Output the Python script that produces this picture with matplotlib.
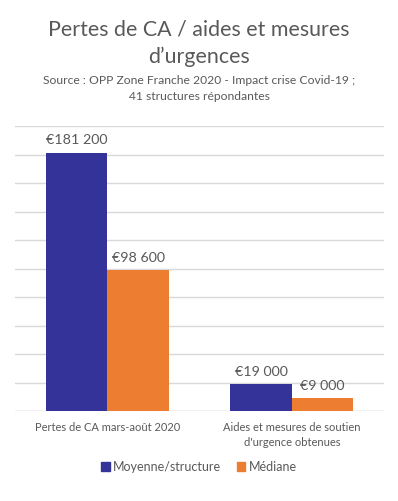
import numpy as np
import matplotlib
matplotlib.use('Agg')
import matplotlib.pyplot as plt
from matplotlib.patches import Patch

categories = ['Pertes de CA mars-août 2020', 'Aides et mesures de soutien\nd\'urgence obtenues']
series_names = ['Moyenne/structure', 'Médiane']
moyenne = [181200, 19000]
mediane = [98600, 9000]
colors = ['#333399', '#ED7D31']
text_col = '#595959'

plt.rcParams['font.family'] = ['Lato', 'DejaVu Sans']

fig = plt.figure(figsize=(3.98, 5.01), dpi=100)
ax = fig.add_axes([15/398, 1-411/501, 369/398, 285/501])

x = np.arange(len(categories))
w = 1/3
for i, (vals, col) in enumerate(zip([moyenne, mediane], colors)):
    pos = x + (i - 0.5) * w
    ax.bar(pos, vals, width=w, color=col, zorder=2)
    for p, v in zip(pos, vals):
        lab = '€' + format(v, ',').replace(',', ' ')
        ax.text(p, v + 4500, lab, ha='center', va='bottom', fontsize=10.3, color=text_col)

ax.set_xlim(-0.5, 1.5)
ax.set_ylim(0, 200000)
ax.set_yticks(np.arange(0, 200001, 20000))
ax.yaxis.grid(True, color='#D9D9D9', linewidth=1)
ax.set_yticklabels([])
ax.tick_params(length=0)
for s in ax.spines.values():
    s.set_visible(False)
ax.axhline(0, color='#D9D9D9', linewidth=1, zorder=1)
ax.set_xticks(x)
ax.set_xticklabels(categories, fontsize=8, color=text_col, linespacing=1.45)
ax.tick_params(axis='x', pad=8)

fig.text(0.5, 1-30/501, 'Pertes de CA / aides et mesures', ha='center', va='center', fontsize=15.4,
         color=text_col)
fig.text(0.5, 1-57/501, 'd\u2019urgences', ha='center', va='center', fontsize=15.4,
         color=text_col)
fig.text(0.5, 1-80/501, 'Source : OPP Zone Franche 2020 - Impact crise Covid-19 ;', ha='center', va='center', fontsize=8.7, color=text_col)
fig.text(0.5, 1-97/501, '41 structures répondantes', ha='center', va='center', fontsize=8.7, color=text_col)

handles = [Patch(color=c) for c in colors]
fig.legend(handles, series_names, loc='center', bbox_to_anchor=(0.5, 1-467/501), ncol=2, frameon=False,
           fontsize=9, labelcolor=text_col, handlelength=0.7, handleheight=0.7, handletextpad=0.3, columnspacing=1.2)

fig.savefig('out.png', dpi=100, facecolor='white')
